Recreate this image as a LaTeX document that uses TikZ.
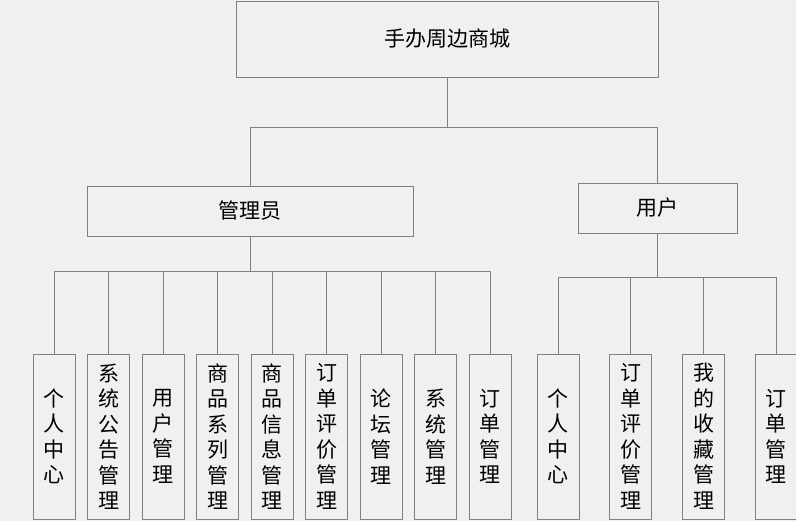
\documentclass[tikz,border=0pt]{standalone}
\usepackage{fontspec}
\usepackage{tikz}
\newfontfamily\cjk{Noto Sans CJK SC}
\definecolor{bgGray}{RGB}{240,240,240}
\definecolor{lineGray}{RGB}{128,128,128}

\begin{document}
\begin{tikzpicture}[x=1pt,y=-1pt,
	box/.style={draw=lineGray,line width=0.8pt,inner sep=0pt,font=\cjk\fontsize{21}{25.5}\selectfont},
	leaf/.style={box,minimum width=42pt,minimum height=165pt,align=center},
	wire/.style={draw=lineGray,line width=0.8pt}]
				\fill[bgGray] (0,0) rectangle (796,521);
				\useasboundingbox (0,0) rectangle (796,521);
				\node[box,minimum width=422pt,minimum height=76pt] (root) at (447,39) {手办周边商城};
				\node[box,minimum width=326pt,minimum height=50pt] (admin) at (250,211) {管理员};
				\node[box,minimum width=159pt,minimum height=50pt] (user) at (657.5,208) {用户};
				\draw[wire] (root.south) -- ++(0,50) -| (admin.north);
				\draw[wire] (root.south) -- ++(0,50) -| (user.north);
				% admin modules
				\foreach \i/\txt in {1/{个\\人\\中\\心},2/{系\\统\\公\\告\\管\\理},3/{用\\户\\管\\理},
					4/{商\\品\\系\\列\\管\\理},5/{商\\品\\信\\息\\管\\理},6/{订\\单\\评\\价\\管\\理},
					7/{论\\坛\\管\\理},8/{系\\统\\管\\理},9/{订\\单\\管\\理}} {
					\node[leaf] (a\i) at ({54+54.5*(\i-1)},436.5) {\txt};
					\draw[wire] (admin.south) -- ++(0,35) -| (a\i.north);
				}
				% user modules
				\foreach \i/\txt in {1/{个\\人\\中\\心},2/{订\\单\\评\\价\\管\\理},
					3/{我\\的\\收\\藏\\管\\理},4/{订\\单\\管\\理}} {
					\node[leaf] (u\i) at ({558+72.8*(\i-1)},436.5) {\txt};
					\draw[wire] (user.south) -- ++(0,44) -| (u\i.north);
				}
			\end{tikzpicture}
\end{document}
